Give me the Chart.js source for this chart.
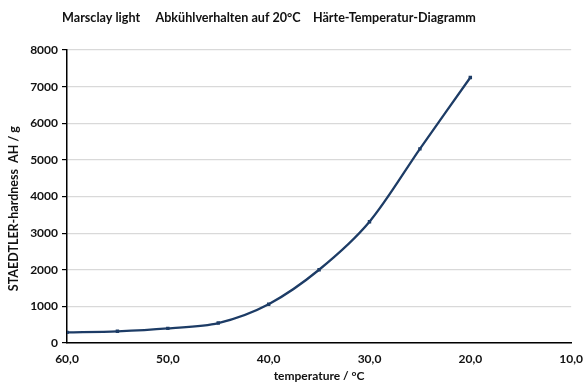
<!DOCTYPE html>
<html>
<head>
<meta charset="utf-8">
<script src="https://cdn.jsdelivr.net/npm/chart.js@4"></script>
<style>
  html, body { margin: 0; padding: 0; background: #fff; }
  #wrap { width: 587px; height: 383px; }
</style>
</head>
<body>
<div id="wrap"><canvas id="myChart" width="587" height="383"></canvas></div>
<script>
// Werte
const temperaturen = [60, 55, 50, 45, 40, 35, 30, 25, 20];
const haerte = [290, 320, 400, 545, 1060, 2000, 3310, 5300, 7250];
const xTicks = [60, 50, 40, 30, 20, 10];
const yTicks = [0, 1000, 2000, 3000, 4000, 5000, 6000, 7000, 8000];

const titel = 'Marsclay light     Abkühlverhalten auf 20°C    Härte-Temperatur-Diagramm';
const schrift = 'Lato, "Open Sans", sans-serif';

// Formato con coma decimal
function formatoComa(v){
    return v.toFixed(1).replace('.', ',');
}

// Titel links ueber dem Diagramm
const titelPlugin = {
    id: 'titelLinks',
    afterDraw(chart){
        const c = chart.ctx;
        c.save();
        c.font = 'bold 12.6px ' + schrift;
        c.fillStyle = '#111';
        c.textBaseline = 'middle';
        c.textAlign = 'left';
        c.fillText(titel, 62, 18);
        c.restore();
    }
};

const ctx = document.getElementById('myChart');

new Chart(ctx, {
    type: 'line',
    data: {
        datasets: [{
            data: temperaturen.map((t, i) => ({ x: t, y: haerte[i] })),
            borderColor: '#1d3c66',
            backgroundColor: '#1d3c66',
            borderWidth: 2.3,
            pointRadius: 0.8,
            pointStyle: 'rect',
            tension: 0.3,
            fill: false
        }]
    },
    plugins: [titelPlugin],
    options: {
        responsive: false,
        animation: false,
        devicePixelRatio: 1,
        layout: { padding: { left: 6, right: 9, top: 50, bottom: 0 } },
        plugins: {
            legend: { display: false },
            tooltip: { enabled: false },
            title: { display: false }
        },
        scales: {
            x: {
                type: 'linear',
                reverse: true,
                min: 10,
                max: 60,
                afterBuildTicks: (axis) => { axis.ticks = xTicks.map(v => ({ value: v })); },
                afterFit: (axis) => { axis.height = 40; },
                grid: { display: false, drawOnChartArea: false, tickLength: 5, color: '#000', tickColor: '#000' },
                border: { display: true, color: '#000', width: 1.5 },
                ticks: {
                    color: '#111',
                    font: { family: schrift, size: 12, weight: 'bold' },
                    padding: 4,
                    maxRotation: 0,
                    callback: (v) => formatoComa(v)
                },
                title: {
                    display: true,
                    text: 'temperature / °C',
                    color: '#111',
                    font: { family: schrift, size: 12, weight: 'bold' },
                    padding: { top: 3, bottom: 0 }
                }
            },
            y: {
                min: 0,
                max: 8000,
                afterBuildTicks: (axis) => { axis.ticks = yTicks.map(v => ({ value: v })); },
                afterFit: (axis) => { axis.width = 61; },
                grid: {
                    color: '#d9d9d9',
                    lineWidth: 1.2,
                    drawTicks: true,
                    tickLength: 5,
                    tickColor: '#000'
                },
                border: { display: true, color: '#000', width: 1.5 },
                ticks: {
                    color: '#111',
                    font: { family: schrift, size: 12, weight: 'bold' },
                    padding: 4,
                    callback: (v) => String(v)
                },
                title: {
                    display: true,
                    text: 'STAEDTLER-hardness  AH / g        ',
                    color: '#111',
                    font: { family: schrift, size: 12.5, weight: 'bold' },
                    padding: { top: 0, bottom: 3 }
                }
            }
        }
    }
});
</script>
</body>
</html>
